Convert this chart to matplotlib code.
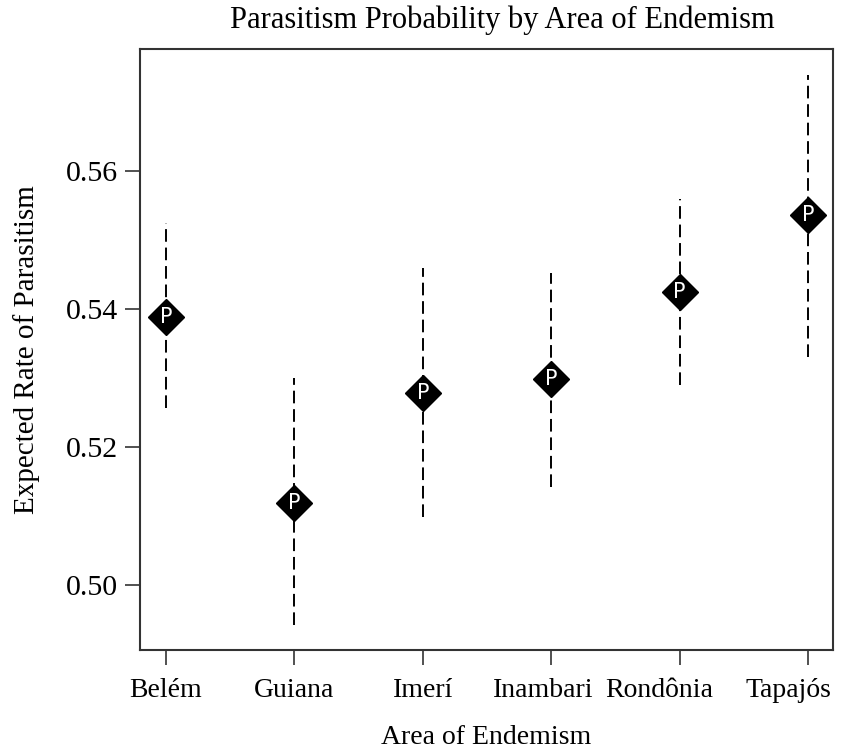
import matplotlib
matplotlib.use("Agg")
import matplotlib.pyplot as plt
from matplotlib.transforms import ScaledTranslation

areas = ["Belém", "Guiana", "Imerí", "Inambari", "Rondônia", "Tapajós"]
rate = [0.5389, 0.5119, 0.5278, 0.5299, 0.5425, 0.5536]
lower = [0.5257, 0.4942, 0.5099, 0.5142, 0.5290, 0.5330]
upper = [0.5525, 0.5300, 0.5459, 0.5452, 0.5559, 0.5739]
yticks = [0.50, 0.52, 0.54, 0.56]

plt.rcParams['font.family'] = ['Liberation Serif', 'DejaVu Serif']

fig = plt.figure(figsize=(8.65, 7.55), dpi=100)
ax = fig.add_axes([0.1618, 0.139, 0.963 - 0.1618, 0.935 - 0.139])

x = list(range(1, len(areas) + 1))
for xi, lo, hi in zip(x, lower, upper):
    ax.plot([xi, xi], [lo, hi], color="black", lw=1.4, ls=(0, (6.5, 3)), zorder=1)
ax.plot(x, rate, ls="none", marker="D", ms=18, color="black", zorder=2)
for xi, r in zip(x, rate):
    ax.text(xi, r, "P", color="white", ha="center", va="center",
            family="DejaVu Sans", fontsize=15, zorder=3)

ax.set_xlim(0.797, 6.195)
ax.set_ylim(0.4906, 0.5777)
ax.set_xticks(x)
ax.set_xticklabels(areas)
ax.set_yticks(yticks)
ax.set_yticklabels([f"{v:.2f}" for v in yticks])
ax.tick_params(axis="both", length=11, width=1.2, color="#333333")
ax.tick_params(axis="x", pad=9, labelsize=20)
ax.tick_params(axis="y", pad=5, labelsize=21.5)
for s in ax.spines.values():
    s.set_linewidth(1.5)
    s.set_color("#333333")

# squeeze the crowded right-hand labels leftwards so they stay inside the figure
shifts = [0, 0, 0, -0.08, -0.2, -0.2]
for lab, dx in zip(ax.get_xticklabels(), shifts):
    lab.set_transform(lab.get_transform() + ScaledTranslation(dx, 0, fig.dpi_scale_trans))

title = ax.set_title("Parasitism Probability by Area of Endemism", fontsize=22, pad=15)
title.set_transform(title.get_transform() + ScaledTranslation(0.16, 0, fig.dpi_scale_trans))
ax.set_xlabel("Area of Endemism", fontsize=20, labelpad=16)
ax.set_ylabel("Expected Rate of Parasitism", fontsize=21, labelpad=18)

fig.savefig("out.png", dpi=100)
